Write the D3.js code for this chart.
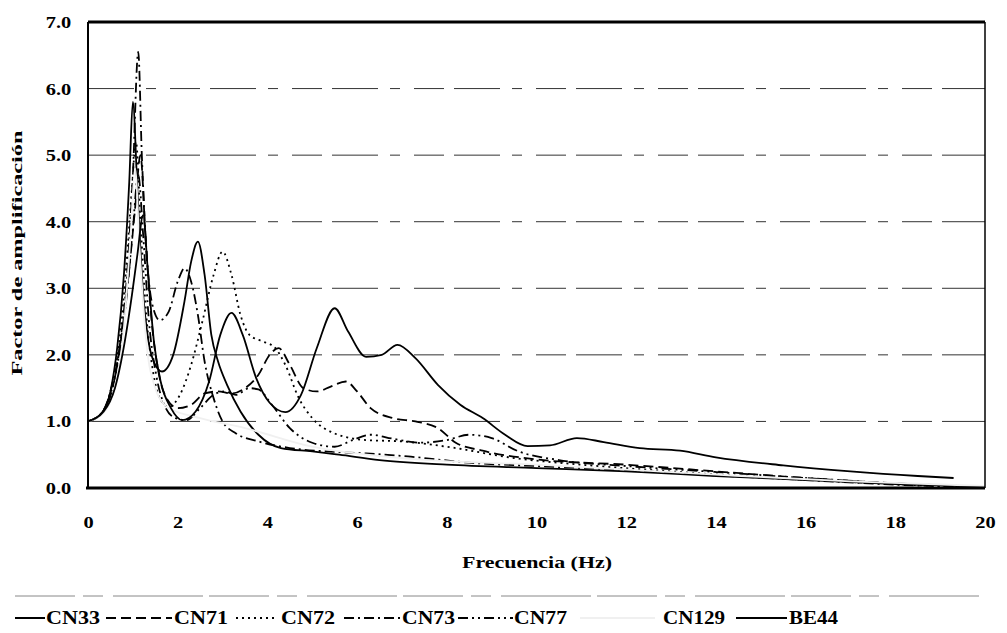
<!DOCTYPE html>
<html>
<head>
<meta charset="utf-8">
<title>Factor de amplificación</title>
<script src="https://cdnjs.cloudflare.com/ajax/libs/d3/7.8.5/d3.min.js"></script>
<style>
  body { margin: 0; background: #fff; }
  text { font-family: "Liberation Serif", "DejaVu Serif", serif; font-weight: bold; fill: #000; }
</style>
</head>
<body>
<script>
// frequency (Hz), amplification factor
var seriesNames = ["CN33", "CN71", "CN72", "CN73", "CN77", "CN129", "BE44"];

var cn33 = [[0,1.0],[0.3,1.12],[0.5,1.45],[0.65,2.1],[0.8,3.2],[0.92,4.6],[1.0,5.8],[1.1,4.5],[1.22,3.0],[1.35,2.2],[1.5,1.85],[1.65,1.75],[1.9,2.0],[2.15,2.8],[2.3,3.4],[2.45,3.7],[2.6,3.2],[2.75,2.3],[2.9,1.9],[3.1,1.55],[3.4,1.15],[3.8,0.8],[4.3,0.6],[5.0,0.55],[5.6,0.5],[6.5,0.42],[8,0.35],[10,0.3],[12,0.25],[14,0.18],[16,0.12],[18,0.06],[20,0.02]];

var cn71 = [[0,1.0],[0.35,1.15],[0.55,1.5],[0.75,2.3],[0.92,3.3],[1.05,4.2],[1.17,5.0],[1.28,3.8],[1.42,2.5],[1.57,1.75],[1.75,1.35],[2.0,1.2],[2.3,1.25],[2.6,1.42],[2.9,1.45],[3.2,1.42],[3.5,1.5],[3.8,1.7],[4.05,2.0],[4.25,2.1],[4.5,1.85],[4.8,1.5],[5.1,1.45],[5.4,1.52],[5.75,1.6],[6.0,1.45],[6.3,1.2],[6.8,1.05],[7.3,1.0],[7.8,0.9],[8.2,0.68],[8.8,0.56],[10,0.43],[12,0.35],[14,0.25],[16,0.15],[18,0.07],[20,0.02]];

var cn72 = [[0,1.0],[0.3,1.12],[0.5,1.45],[0.7,2.2],[0.85,3.3],[0.98,4.5],[1.07,5.2],[1.17,4.0],[1.3,2.6],[1.45,1.75],[1.6,1.35],[1.8,1.22],[2.05,1.4],[2.3,1.85],[2.55,2.5],[2.8,3.2],[3.0,3.55],[3.2,3.2],[3.4,2.6],[3.6,2.3],[3.9,2.2],[4.15,2.12],[4.4,1.85],[4.7,1.35],[5.0,1.05],[5.5,0.82],[6.2,0.72],[7.0,0.7],[8.0,0.62],[9.5,0.45],[11,0.35],[13,0.25],[15,0.16],[17,0.09],[19,0.03],[20,0.01]];

var cn73 = [[0,1.0],[0.3,1.12],[0.5,1.45],[0.7,2.1],[0.87,3.2],[1.0,4.7],[1.12,6.55],[1.2,5.0],[1.3,3.6],[1.42,2.8],[1.6,2.52],[1.8,2.65],[2.0,3.1],[2.15,3.3],[2.3,3.1],[2.45,2.6],[2.6,1.9],[2.8,1.35],[3.0,1.0],[3.3,0.82],[3.8,0.7],[4.5,0.6],[5.3,0.55],[6.2,0.52],[7.2,0.47],[8.5,0.38],[10,0.33],[12,0.27],[14,0.19],[16,0.12],[18,0.05],[20,0.01]];

var cn77 = [[0,1.0],[0.3,1.12],[0.52,1.45],[0.72,2.1],[0.88,3.0],[1.0,3.9],[1.12,4.7],[1.23,3.8],[1.36,2.5],[1.52,1.7],[1.7,1.25],[1.95,1.05],[2.2,1.02],[2.5,1.2],[2.8,1.4],[3.05,1.45],[3.3,1.4],[3.6,1.5],[3.8,1.48],[4.1,1.25],[4.5,0.9],[5.0,0.68],[5.5,0.62],[5.9,0.72],[6.3,0.8],[6.8,0.74],[7.4,0.68],[8.0,0.72],[8.5,0.8],[9.0,0.75],[9.6,0.55],[10.5,0.42],[12,0.33],[14,0.24],[16,0.15],[18,0.07],[20,0.02]];

var cn129 = [[0,1.0],[0.3,1.1],[0.55,1.4],[0.8,2.4],[0.95,3.8],[1.05,4.8],[1.15,3.6],[1.3,2.2],[1.5,1.5],[1.8,1.2],[2.5,1.05],[3.5,0.9],[5,0.62],[7,0.45],[10,0.35],[14,0.2],[17,0.1],[20,0.03]];

var be44 = [[0,1.0],[0.35,1.15],[0.6,1.5],[0.82,2.2],[0.98,2.9],[1.1,3.5],[1.23,4.1],[1.33,3.3],[1.47,2.2],[1.62,1.6],[1.85,1.2],[2.1,1.02],[2.4,1.15],[2.7,1.6],[2.95,2.3],[3.2,2.63],[3.45,2.3],[3.75,1.65],[4.05,1.28],[4.4,1.14],[4.75,1.4],[5.1,2.1],[5.5,2.7],[5.8,2.35],[6.2,1.97],[6.55,2.0],[6.9,2.15],[7.3,1.95],[7.8,1.55],[8.3,1.25],[8.8,1.05],[9.3,0.8],[9.8,0.63],[10.3,0.64],[10.9,0.75],[11.5,0.69],[12.3,0.6],[13.2,0.56],[14,0.46],[15.5,0.34],[17,0.25],[18.5,0.18],[19.3,0.15]];

var seriesData = [cn33, cn71, cn72, cn73, cn77, cn129, be44];

var xTicks = [0, 2, 4, 6, 8, 10, 12, 14, 16, 18, 20];
var yTicks = [0, 1, 2, 3, 4, 5, 6, 7];

// line styles, same order as seriesNames
var dashes = ["none", "10,5", "2,4", "10,4,2,4", "10,4,2,4,2,4", "none", "none"];
var strokes = ["#000", "#000", "#000", "#000", "#000", "#f0f0f0", "#000"];

var W = 1007, H = 633;
var plotLeft = 88, plotRight = 985, plotTop = 22, plotBottom = 488;

var svg = d3.select("body").append("svg")
    .attr("width", W)
    .attr("height", H);

var x = d3.scaleLinear().domain([0, 20]).range([plotLeft, plotRight]);
var y = d3.scaleLinear().domain([0, 7]).range([plotBottom, plotTop]);

// gridlines
svg.append("g")
    .selectAll("line")
    .data(yTicks.slice(1, -1))
    .enter().append("line")
    .attr("x1", plotLeft).attr("x2", plotRight)
    .attr("y1", function(d) { return y(d); })
    .attr("y2", function(d) { return y(d); })
    .attr("stroke", "#333")
    .attr("stroke-width", 1)
    .attr("stroke-dasharray", "46,12,10,14,30,10");

// axes
var xAxis = svg.append("g")
    .attr("transform", "translate(0," + plotBottom + ")")
    .call(d3.axisBottom(x).tickValues(xTicks).tickSize(0).tickPadding(28).tickFormat(d3.format("d")));
xAxis.select(".domain").remove();
xAxis.selectAll("text")
    .attr("font-size", 17)
    .attr("transform", "scale(1.2,1)");

var yAxis = svg.append("g")
    .attr("transform", "translate(" + plotLeft + ",0)")
    .call(d3.axisLeft(y).tickValues(yTicks).tickSize(0).tickPadding(14).tickFormat(d3.format(".1f")));
yAxis.select(".domain").remove();
yAxis.selectAll("text")
    .attr("font-size", 17)
    .attr("transform", "scale(1.2,1)");

// series
var line = d3.line()
    .x(function(d) { return x(d[0]); })
    .y(function(d) { return y(d[1]); })
    .curve(d3.curveMonotoneX);

svg.append("g")
    .selectAll("path")
    .data(seriesData)
    .enter().append("path")
    .attr("d", line)
    .attr("fill", "none")
    .attr("stroke", function(d, i) { return strokes[i]; })
    .attr("stroke-width", 1.8)
    .attr("stroke-dasharray", function(d, i) { return dashes[i]; });

// frame
svg.append("line").attr("x1", plotLeft).attr("x2", plotRight).attr("y1", plotTop).attr("y2", plotTop)
    .attr("stroke", "#000").attr("stroke-width", 3);
svg.append("line").attr("x1", plotRight).attr("x2", plotRight).attr("y1", plotTop).attr("y2", plotBottom)
    .attr("stroke", "#000").attr("stroke-width", 1.5);
svg.append("line").attr("x1", plotLeft).attr("x2", plotLeft).attr("y1", plotTop).attr("y2", plotBottom)
    .attr("stroke", "#000").attr("stroke-width", 2);
svg.append("line").attr("x1", plotLeft - 2).attr("x2", plotRight).attr("y1", plotBottom).attr("y2", plotBottom)
    .attr("stroke", "#000").attr("stroke-width", 3);

// titles
svg.append("text")
    .attr("x", 537).attr("y", 568)
    .attr("text-anchor", "middle")
    .attr("font-size", 16)
    .attr("textLength", 150)
    .attr("lengthAdjust", "spacingAndGlyphs")
    .text("Frecuencia (Hz)");

svg.append("text")
    .attr("transform", "translate(22,253) rotate(-90)")
    .attr("text-anchor", "middle")
    .attr("font-size", 15)
    .attr("textLength", 245)
    .attr("lengthAdjust", "spacingAndGlyphs")
    .text("Factor de amplificación");

// legend
var ly = 618;
var legendLayout = [
    { x1: 15, x2: 45, tx: 46, tw: 54 },
    { x1: 106, x2: 172, tx: 174, tw: 54 },
    { x1: 236, x2: 277, tx: 281, tw: 54 },
    { x1: 344, x2: 401, tx: 402, tw: 53 },
    { x1: 458, x2: 513, tx: 514, tw: 53 },
    { x1: 580, x2: 655, tx: 663, tw: 62 },
    { x1: 736, x2: 787, tx: 789, tw: 49 }
];

svg.append("line")
    .attr("x1", 15).attr("x2", 985).attr("y1", 596).attr("y2", 596)
    .attr("stroke", "#888").attr("stroke-width", 1)
    .attr("stroke-dasharray", "60,8,20,10,90,6");

var lg = svg.append("g").selectAll("g")
    .data(seriesNames)
    .enter().append("g");

lg.append("line")
    .attr("x1", function(d, i) { return legendLayout[i].x1; })
    .attr("x2", function(d, i) { return legendLayout[i].x2; })
    .attr("y1", ly).attr("y2", ly)
    .attr("stroke", function(d, i) { return strokes[i]; })
    .attr("stroke-width", 2)
    .attr("stroke-dasharray", function(d, i) { return dashes[i]; });

lg.append("text")
    .attr("x", function(d, i) { return legendLayout[i].tx; })
    .attr("y", ly + 6)
    .attr("font-size", 18)
    .attr("textLength", function(d, i) { return legendLayout[i].tw; })
    .attr("lengthAdjust", "spacingAndGlyphs")
    .text(function(d) { return d; });
</script>
</body>
</html>
